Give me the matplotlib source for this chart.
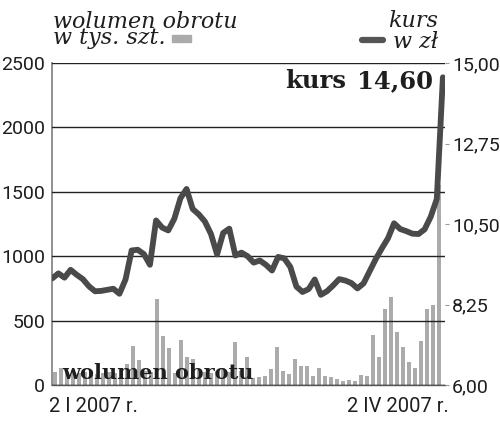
import numpy as np
import matplotlib
matplotlib.use("Agg")
import matplotlib.pyplot as plt

# ---- data ----
volume = [104, 130, 100, 120, 90, 100, 110, 85, 95, 100, 90, 130, 164, 304, 195, 110,
          100, 671, 382, 291, 94, 351, 218, 203, 120, 100, 90, 110, 130, 100, 330, 110,
          216, 57, 60, 70, 122, 296, 109, 86, 198, 146, 148, 70, 133, 70, 60, 47,
          31, 39, 31, 81, 73, 385, 218, 590, 681, 413, 296, 179, 133, 343, 590, 624, 1550]
price = [8.98, 9.12, 9.00, 9.22, 9.08, 8.96, 8.76, 8.62, 8.63, 8.66, 8.69, 8.55, 8.95,
         9.76, 9.78, 9.66, 9.36, 10.60, 10.40, 10.32, 10.65, 11.22, 11.48, 10.92, 10.77,
         10.57, 10.22, 9.65, 10.25, 10.37, 9.62, 9.70, 9.60, 9.42, 9.48, 9.36, 9.20, 9.58,
         9.54, 9.30, 8.75, 8.60, 8.68, 8.95, 8.52, 8.62, 8.78, 8.96, 8.92, 8.85, 8.70, 8.84,
         9.18, 9.52, 9.82, 10.10, 10.52, 10.36, 10.30, 10.23, 10.22, 10.35, 10.70, 11.20, 14.60]
vol_ticks = [0, 500, 1000, 1500, 2000, 2500]
price_ticks = [6.00, 8.25, 10.50, 12.75, 15.00]
x_labels = ["2 I 2007 r.", "2 IV 2007 r."]
last_label = "14,60"

BAR = "#ababab"
LINE = "#4a4a4a"
TXT = "#1e1e1e"
TICKFONT = "Roboto"

W, H = 500, 430
fig = plt.figure(figsize=(W / 100, H / 100), dpi=100)
L, R, T, B = 52, 445, 63, 385
ax = fig.add_axes([L / W, 1 - B / H, (R - L) / W, (B - T) / H])

n = len(volume)
xb = np.arange(n)
ax.bar(xb, volume, width=0.72, color=BAR, zorder=1)
ax.set_xlim(-0.55, n - 0.05)
ax.set_ylim(0, 2500)
ax.set_yticks(vol_ticks)
ax.set_yticklabels([str(v) for v in vol_ticks], family=TICKFONT)
ax.set_axisbelow(False)
ax.grid(axis="y", color="#222222", lw=1.0)
ax.set_xticks([])
ax.tick_params(axis="y", length=0, pad=5, labelsize=14, labelcolor=TXT)
for s in ["top", "right"]:
    ax.spines[s].set_visible(False)
ax.spines["left"].set_color("#888888")
ax.spines["left"].set_linewidth(1.3)
ax.spines["bottom"].set_color("#555555")
ax.spines["bottom"].set_linewidth(1.0)

tw = ax.twinx()
xl = np.linspace(-0.5, n - 1 + 0.6, n)
tw.plot(xl, price, color=LINE, lw=4.2, solid_capstyle="round",
        solid_joinstyle="round", zorder=3)
tw.set_ylim(6, 15)
tw.set_yticks(price_ticks)
tw.set_yticklabels([f"{v:.2f}".replace(".", ",") for v in price_ticks], family=TICKFONT)
tw.tick_params(axis="y", length=3, color="#999999", pad=2, labelsize=14, labelcolor=TXT)
for s in tw.spines.values():
    s.set_visible(False)
tw.set_xlim(ax.get_xlim())


def ft(x, y, s, **kw):
    fig.text(x / W, 1 - y / H, s, va="baseline", color=TXT, **kw)

# headers
ft(53, 44, "wolumen obrotu\nw tys. szt.", fontsize=16, family="DejaVu Serif",
   style="italic", linespacing=0.66, ma="left")
ft(438, 48, "kurs\nw zł", fontsize=16, family="DejaVu Serif", style="italic",
   ha="right", ma="right", linespacing=0.95)

# legend samples
fig.patches.append(plt.Rectangle((172 / W, 1 - 42 / H), 19 / W, 7 / H,
                                 transform=fig.transFigure, color=BAR))
fig.lines.append(plt.Line2D([362 / W, 383 / W], [1 - 40 / H, 1 - 40 / H],
                            transform=fig.transFigure, color="#555555", lw=4.5,
                            solid_capstyle="round"))

# big label
ft(285, 88, "kurs", fontsize=17.5, family="DejaVu Serif", weight="bold")
ft(433, 88, last_label, fontsize=17.5, family="DejaVu Serif", weight="bold", ha="right")

# in-chart label
ax.text(62 / W, 1 - 379 / H, "wolumen obrotu", transform=fig.transFigure,
        fontsize=15, family="DejaVu Serif", weight="bold", color=TXT,
        va="baseline", zorder=6)

# x labels
ft(49, 412, x_labels[0], fontsize=14.5, family=TICKFONT)
ft(347, 412, x_labels[1], fontsize=14.5, family=TICKFONT)

fig.savefig("out.png", dpi=100)
